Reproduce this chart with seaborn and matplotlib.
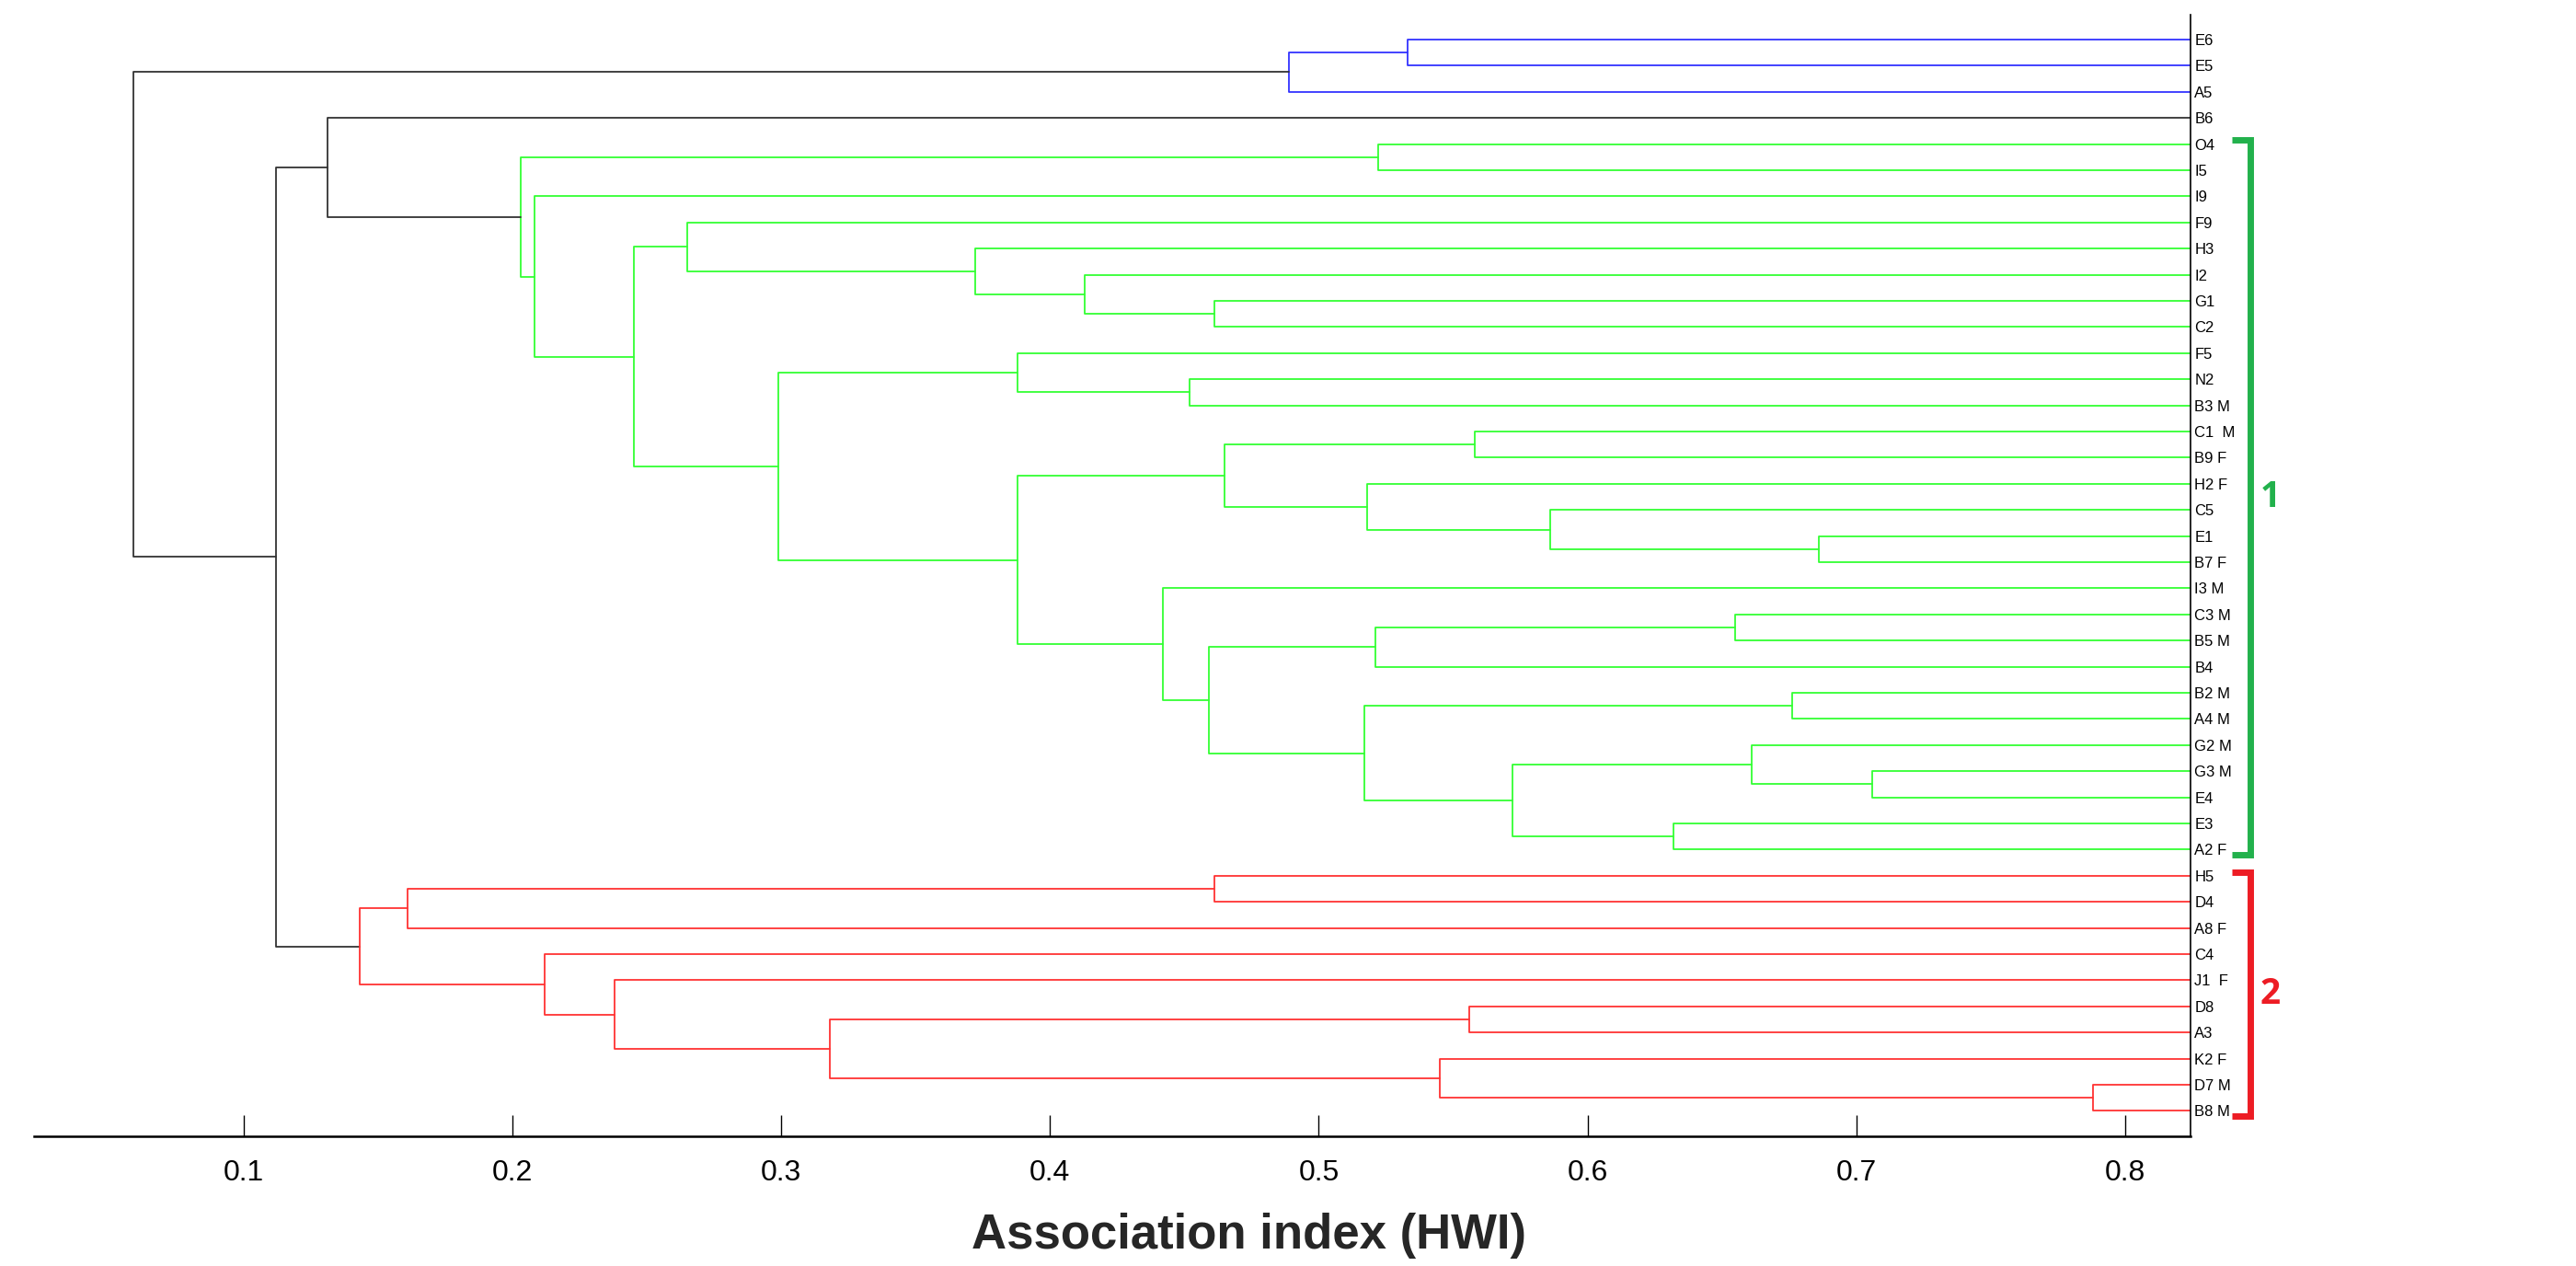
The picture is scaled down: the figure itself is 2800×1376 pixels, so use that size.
import numpy as np
import pandas as pd
import matplotlib
matplotlib.use("Agg")
import matplotlib.pyplot as plt
import seaborn as sns

# ---------------- data ----------------
leaf_ids = ["E6", "E5", "A5", "B6", "O4", "I5", "I9", "F9", "H3", "I2", "G1", "C2",
            "F5", "N2", "B3 M", "C1 M", "B9 F", "H2 F", "C5", "E1", "B7 F", "I3 M",
            "C3 M", "B5 M", "B4", "B2 M", "A4 M", "G2 M", "G3 M", "E4", "E3", "A2 F",
            "H5", "D4", "A8 F", "C4", "J1 F", "D8", "A3", "K2 F", "D7 M", "B8 M"]
leaf_text = ["E6", "E5", "A5", "B6", "O4", "I5", "I9", "F9", "H3", "I2", "G1", "C2",
             "F5", "N2", "B3 M", "C1  M", "B9 F", "H2 F", "C5", "E1", "B7 F", "I3 M",
             "C3 M", "B5 M", "B4", "B2 M", "A4 M", "G2 M", "G3 M", "E4", "E3", "A2 F",
             "H5", "D4", "A8 F", "C4", "J1  F", "D8", "A3", "K2 F", "D7 M", "B8 M"]

# merges (m0, m1, ...) : left child, right child, association index (HWI)
merge_left = ["E6", "m0", "O4", "G1", "I2", "H3", "F9", "N2", "F5", "C1 M",
              "E1", "C5", "H2 F", "m9", "C3 M", "m14", "B2 M", "G3 M", "G2 M", "E3",
              "m18", "m16", "m15", "I3 M", "m13", "m8", "m6", "I9", "m2", "B6",
              "H5", "m30", "D7 M", "K2 F", "D8", "m34", "J1 F", "C4", "m31", "m29", "m1"]
merge_right = ["E5", "A5", "I5", "C2", "m3", "m4", "m5", "B3 M", "m7", "B9 F",
               "B7 F", "m10", "m11", "m12", "B5 M", "B4", "A4 M", "E4", "m17", "A2 F",
               "m19", "m20", "m21", "m22", "m23", "m24", "m25", "m26", "m27", "m28",
               "D4", "A8 F", "B8 M", "m32", "A3", "m33", "m35", "m36", "m37", "m38", "m39"]
merge_hwi = [0.533, 0.489, 0.522, 0.461, 0.413, 0.372, 0.265, 0.452, 0.388, 0.558,
             0.686, 0.586, 0.518, 0.465, 0.655, 0.521, 0.676, 0.706, 0.661, 0.632,
             0.572, 0.517, 0.459, 0.442, 0.388, 0.299, 0.245, 0.208, 0.203, 0.131,
             0.461, 0.161, 0.788, 0.545, 0.556, 0.318, 0.238, 0.212, 0.143, 0.112, 0.059]

cluster_roots = {"m1": "blue", "m28": "green", "m38": "red"}
palette = {"blue": "#3333ff", "green": "#33ff33", "red": "#ff3333", "black": "#333333"}

xticks = [0.1, 0.2, 0.3, 0.4, 0.5, 0.6, 0.7, 0.8]
xticklabels = ["0.1", "0.2", "0.3", "0.4", "0.5", "0.6", "0.7", "0.8"]
x_min, x_max = 0.0219, 0.8244

bracket_groups = [("1", "O4", "A2 F", "#22b14c"), ("2", "H5", "B8 M", "#ed1c24")]

# ---------------- tree geometry ----------------
pos = {lid: float(i) for i, lid in enumerate(leaf_ids)}
hgt = {lid: x_max for lid in leaf_ids}
parent = {}
for k, (l, r) in enumerate(zip(merge_left, merge_right)):
    parent[l] = f"m{k}"
    parent[r] = f"m{k}"

color = {}
for k in reversed(range(len(merge_hwi))):
    name = f"m{k}"
    if name in cluster_roots:
        color[name] = cluster_roots[name]
    elif name in parent and color[parent[name]] != "black":
        color[name] = color[parent[name]]
    else:
        color[name] = "black"

rows = []
for k, (l, r, h) in enumerate(zip(merge_left, merge_right, merge_hwi)):
    name = f"m{k}"
    yl, yr = pos[l], pos[r]
    xs = [hgt[l], h, h, hgt[r]]
    ys = [yl, yl, yr, yr]
    for j, (xx, yy) in enumerate(zip(xs, ys)):
        rows.append({"x": xx, "y": yy, "seg": k, "order": j, "grp": color[name]})
    pos[name] = (yl + yr) / 2.0
    hgt[name] = h
df = pd.DataFrame(rows)

# ---------------- plot ----------------
sns.set_theme(style="white")
plt.rcParams["font.family"] = ["Liberation Sans", "DejaVu Sans"]

fig = plt.figure(figsize=(14, 6.88), dpi=200)
ax = fig.add_axes([37 / 2800, 1 - 1235 / 1376, (2381 - 37) / 2800, (1235 - 16) / 1376])

sns.lineplot(data=df, x="x", y="y", units="seg", estimator=None, sort=False,
             hue="grp", palette=palette, legend=False, linewidth=0.65, ax=ax)

ax.set_xlim(x_min, x_max)
ax.set_ylim(41.97, -0.95)
ax.set_xlabel("")
ax.set_ylabel("")

ax.set_xticks(xticks)
ax.set_xticklabels(xticklabels)
ax.tick_params(axis="x", direction="in", length=8.3, width=0.5, pad=9,
               labelsize=11.5, colors="black", bottom=True)

ax.set_yticks(range(len(leaf_ids)))
ax.set_yticklabels(leaf_text)
ax.yaxis.tick_right()
ax.tick_params(axis="y", length=0, pad=1.5, labelsize=6, colors="black")

for s in ["top", "left"]:
    ax.spines[s].set_visible(False)
ax.spines["bottom"].set_color("black")
ax.spines["bottom"].set_linewidth(0.9)
ax.spines["right"].set_color("black")
ax.spines["right"].set_linewidth(0.6)

# cluster brackets
for lab, first, last, col in bracket_groups:
    y0 = leaf_ids.index(first) - 0.15
    y1 = leaf_ids.index(last) + 0.2
    ax.plot([0.8398, 0.8467, 0.8467, 0.8398], [y0, y0, y1, y1], color=col, lw=2.5,
            clip_on=False, solid_joinstyle="miter", solid_capstyle="butt")
    ax.text(0.8541, (y0 + y1) / 2, lab, color=col, fontsize=14, fontweight="bold",
            family=["Open Sans", "DejaVu Sans"], ha="center", va="center", clip_on=False)

fig.text(1357 / 2800, 1 - 1343 / 1376, "Association index (HWI)", ha="center", va="center",
         fontsize=19, fontweight="bold", color="#262626")

fig.savefig("out.png", dpi=200, facecolor="white")
